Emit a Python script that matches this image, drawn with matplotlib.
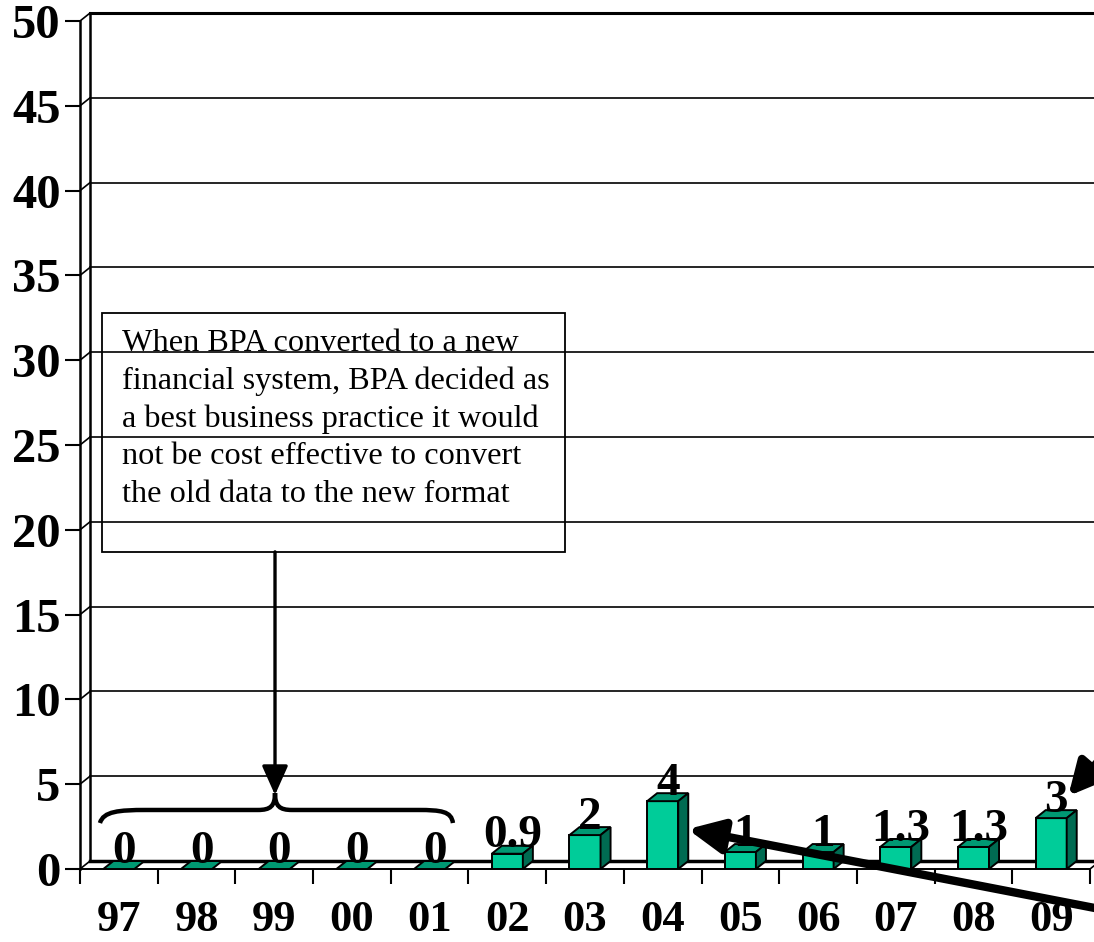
import numpy as np
import matplotlib.pyplot as plt
from matplotlib.patches import Polygon, Rectangle, PathPatch
from matplotlib.path import Path

# chart data
years = ["97", "98", "99", "00", "01", "02", "03", "04", "05", "06", "07", "08", "09"]
values = [0, 0, 0, 0, 0, 0.9, 2, 4, 1, 1, 1.3, 1.3, 3]
y_ticks = [0, 5, 10, 15, 20, 25, 30, 35, 40, 45, 50]
note = ("When BPA converted to a new\nfinancial system, BPA decided as\n"
        "a best business practice it would\nnot be cost effective to convert\n"
        "the old data to the new format")

FRONT = "#00CC99"
TOP = "#009973"
SIDE = "#006B52"
serif = ["Liberation Serif", "DejaVu Serif"]

fig = plt.figure(figsize=(10.94, 9.42), dpi=100)
ax = fig.add_axes([80/1094, 73/942, 1010/1094, 848/942])
n = len(years)
ax.set_xlim(0, n)
ax.set_ylim(0, 50)

# 3d depth offsets in data units (about 10px right, 8px up)
dx = 0.129
dy = 0.47

# back wall gridlines and left wall diagonals
for v in y_ticks:
    lw = 2.2 if v == 50 else 1.2
    ax.plot([dx, n + dx + 0.2], [v + dy, v + dy], color="black", lw=lw, clip_on=False, zorder=1)
    ax.plot([0, dx], [v, v + dy], color="black", lw=1.2, clip_on=False, zorder=1)
ax.plot([dx, dx], [dy, 50 + dy], color="black", lw=1.8, clip_on=False, zorder=1)
ax.plot([dx, n + dx + 0.2], [dy, dy], color="black", lw=2.5, clip_on=False, zorder=1)
ax.plot([n, n + dx], [0, dy], color="black", lw=1.2, clip_on=False, zorder=1)

# bars
w = 0.4
centers = np.arange(n) + 0.5
ax.bar(centers, values, width=w, color=FRONT, edgecolor="black", lw=1.4, zorder=3)
for c, v in zip(centers, values):
    x0, x1 = c - w/2, c + w/2
    top = Polygon([(x0, v), (x1, v), (x1 + dx, v + dy), (x0 + dx, v + dy)], closed=True,
                  facecolor=TOP, edgecolor="black", lw=1.4, zorder=3, clip_on=False)
    ax.add_patch(top)
    if v > 0:
        side = Polygon([(x1, 0), (x1 + dx, dy), (x1 + dx, v + dy), (x1, v)], closed=True,
                       facecolor=SIDE, edgecolor="black", lw=1.4, zorder=3)
        ax.add_patch(side)
    ax.text(c + dx/2, v + dy - 0.1, "{:g}".format(v), ha="center", va="baseline",
            fontsize=34, fontweight="bold", family=serif, zorder=5)

# axes styling
for s in ["top", "right"]:
    ax.spines[s].set_visible(False)
ax.spines["left"].set_linewidth(1.8)
ax.spines["bottom"].set_linewidth(1.4)
ax.set_yticks(y_ticks)
ax.set_yticklabels([str(t) for t in y_ticks], fontsize=35, fontweight="bold", family=serif)
ax.tick_params(axis="y", length=10.5, width=1.5, pad=3.5)
ax.set_xticks(centers)
ax.set_xticklabels(years, fontsize=32, fontweight="bold", family=serif)
ax.set_xticks(np.arange(n + 1), minor=True)
ax.tick_params(axis="x", which="major", length=0, pad=22)
ax.tick_params(axis="x", which="minor", length=11, width=1.5)

# note box
ax.add_patch(Rectangle((0.283, 18.7), 5.96, 14.1, fill=False, edgecolor="black", lw=1.3,
                       zorder=4, clip_on=False))
ax.text(0.54, 31.85, note, ha="left", va="top", fontsize=23.2, family=serif,
        linespacing=1.38, zorder=5)
ax.annotate("", xy=(2.51, 4.36), xytext=(2.51, 18.7),
            arrowprops=dict(arrowstyle="-|>,head_length=1.8,head_width=0.8", lw=2.4,
                            color="black", shrinkA=0, shrinkB=0), zorder=5)

# brace over the missing years
verts = [(0.257, 2.71), (0.30, 3.40), (0.50, 3.48), (0.85, 3.48),
         (2.29, 3.48),
         (2.45, 3.48), (2.51, 3.70), (2.51, 4.48),
         (2.51, 3.70), (2.57, 3.48), (2.73, 3.48),
         (4.35, 3.48),
         (4.65, 3.48), (4.78, 3.40), (4.80, 2.71)]
codes = [Path.MOVETO, Path.CURVE4, Path.CURVE4, Path.CURVE4, Path.LINETO,
         Path.CURVE4, Path.CURVE4, Path.CURVE4, Path.CURVE4, Path.CURVE4, Path.CURVE4,
         Path.LINETO, Path.CURVE4, Path.CURVE4, Path.CURVE4]
ax.add_patch(PathPatch(Path(verts, codes), fill=False, lw=3.2, edgecolor="black", zorder=5,
                       clip_on=False))

# arrows coming from off-chart callouts
ax.annotate("", xy=(7.82, 2.35), xytext=(13.4, -2.6), annotation_clip=False,
            arrowprops=dict(arrowstyle="-|>,head_length=2.1,head_width=1.0", lw=6,
                            color="black", shrinkA=0, shrinkB=0), zorder=6)
ax.annotate("", xy=(12.72, 4.3), xytext=(13.55, 8.7), annotation_clip=False,
            arrowprops=dict(arrowstyle="-|>,head_length=2.0,head_width=1.0", lw=6,
                            color="black", shrinkA=0, shrinkB=0), zorder=6)

fig.savefig("out.png", dpi=100)
